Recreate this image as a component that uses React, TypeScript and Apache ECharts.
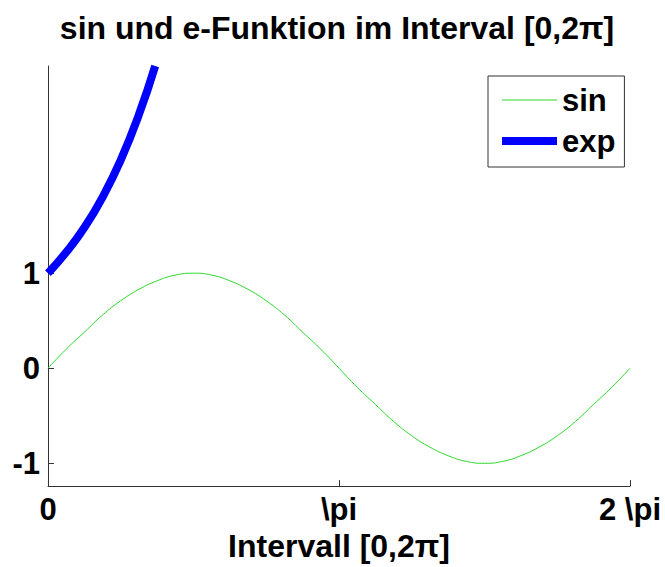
import React, { useEffect, useRef } from "react";
import * as echarts from "echarts";

const titleText = "sin und e-Funktion im Interval [0,2π]";
const xAxisName = "Intervall [0,2π]";
const PI = 3.14159265;
const xTickValues = [0, PI, 2 * PI];
const xTickLabels = ["0", "\\pi", "2 \\pi"];
const yTickValues = [-1, 0, 1];
const yTickLabels = ["-1", "0", "1"];

const sinX = [0, 0.196, 0.393, 0.589, 0.785, 0.982, 1.178, 1.374, 1.571, 1.767, 1.963, 2.16, 2.356, 2.553, 2.749, 2.945, 3.142, 3.338, 3.534, 3.731, 3.927, 4.123, 4.32, 4.516, 4.712, 4.909, 5.105, 5.301, 5.498, 5.694, 5.89, 6.087, 6.283];
const sinY = [0, 0.2, 0.38, 0.56, 0.71, 0.83, 0.92, 0.98, 1.0, 0.98, 0.92, 0.83, 0.71, 0.56, 0.38, 0.2, 0, -0.2, -0.38, -0.56, -0.71, -0.83, -0.92, -0.98, -1.0, -0.98, -0.92, -0.83, -0.71, -0.56, -0.38, -0.2, 0];
const expX = [0, 0.196, 0.393, 0.589, 0.785, 0.982, 1.157];
const expY = [1, 1.22, 1.48, 1.8, 2.19, 2.67, 3.18];

const FONT = "'Liberation Sans', Arial, Helvetica, sans-serif";

export default function App() {
  const ref = useRef<HTMLDivElement>(null);
  useEffect(() => {
    if (!ref.current) return;
    const chart = echarts.init(ref.current, undefined, { renderer: "svg" });
    const labelFor = (v: number, vals: number[], labels: string[]) => {
      for (let i = 0; i < vals.length; i++) if (Math.abs(vals[i] - v) < 1e-3) return labels[i];
      return "";
    };
    chart.setOption({
      animation: false,
      backgroundColor: "#ffffff",
      title: {
        text: titleText,
        left: 337,
        top: 12,
        padding: 0,
        textAlign: "center",
        textStyle: { fontFamily: FONT, fontWeight: "bold", fontSize: 32, color: "#000" },
      },
      legend: {
        orient: "vertical",
        left: 488,
        top: 76,
        padding: [7, 9, 9, 10],
        itemGap: 7,
        itemWidth: 55,
        itemHeight: 14,
        borderColor: "#333",
        borderWidth: 1,
        itemStyle: { opacity: 0 },
        lineStyle: { width: "inherit" },
        textStyle: { fontFamily: FONT, fontWeight: "bold", fontSize: 31, color: "#000", lineHeight: 34 },
        data: ["sin", "exp"],
      },
      grid: { left: 48, right: 35, top: 66, bottom: 75, containLabel: false },
      xAxis: {
        type: "value",
        min: 0,
        max: 2 * PI,
        name: xAxisName,
        nameLocation: "middle",
        nameGap: 42,
        nameTextStyle: { fontFamily: FONT, fontWeight: "bold", fontSize: 32, color: "#000" },
        axisLine: { show: true, onZero: false, lineStyle: { color: "#333", width: 1 } },
        axisTick: { show: true, inside: true, length: 6, customValues: xTickValues, lineStyle: { color: "#333" } },
        axisLabel: {
          show: true,
          customValues: xTickValues,
          margin: 8,
          fontFamily: FONT,
          fontWeight: "bold",
          fontSize: 31,
          color: "#000",
          formatter: (v: number) => labelFor(v, xTickValues, xTickLabels),
        },
        splitLine: { show: false },
      },
      yAxis: {
        type: "value",
        min: -1.24,
        max: 3.18,
        axisLine: { show: true, onZero: false, lineStyle: { color: "#333", width: 1 } },
        axisTick: { show: true, inside: true, length: 6, customValues: yTickValues, lineStyle: { color: "#333" } },
        axisLabel: {
          show: true,
          customValues: yTickValues,
          margin: 8,
          fontFamily: FONT,
          fontWeight: "bold",
          fontSize: 31,
          color: "#000",
          formatter: (v: number) => labelFor(v, yTickValues, yTickLabels),
        },
        splitLine: { show: false },
      },
      series: [
        {
          name: "sin",
          type: "line",
          smooth: true,
          showSymbol: false,
          symbol: "none",
          data: sinX.map((x, i) => [x, sinY[i]]),
          lineStyle: { color: "#2ad82a", width: 1 },
          itemStyle: { color: "#2ad82a" },
        },
        {
          name: "exp",
          type: "line",
          smooth: true,
          showSymbol: false,
          symbol: "none",
          data: expX.map((x, i) => [x, expY[i]]),
          lineStyle: { color: "#0000ff", width: 8 },
          itemStyle: { color: "#0000ff" },
        },
      ],
    });
    return () => chart.dispose();
  }, []);
  return (
    <div
      ref={ref}
      style={{ position: "fixed", left: 0, top: 0, width: 665, height: 567, background: "#fff" }}
    />
  );
}
